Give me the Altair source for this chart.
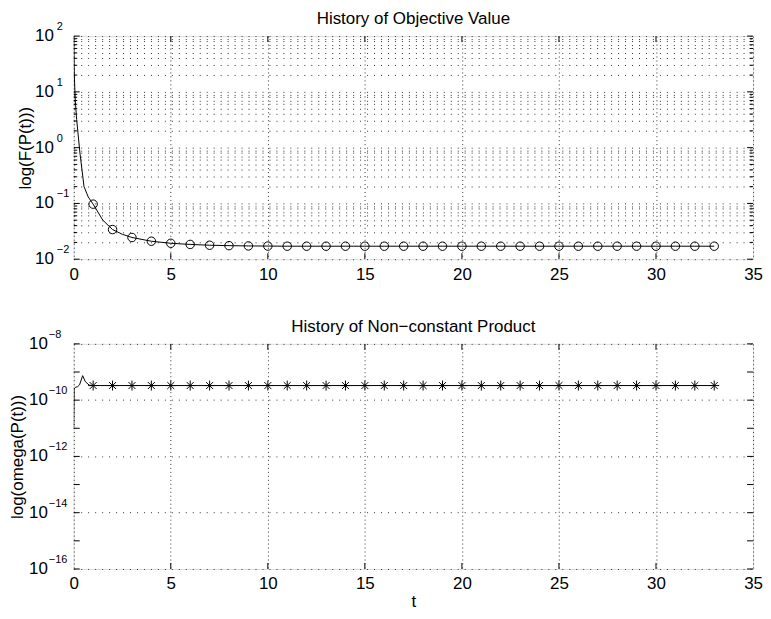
import altair as alt
import pandas as pd

FONT = "Liberation Sans"
FS = 17

# ---------------- data: top panel (objective value) ----------------
top_line_t = [0, 0.03, 0.08, 0.15, 0.32, 0.53, 0.75, 1.5, 2.5]
top_line_v = [100, 20, 7, 3.2, 0.8, 0.2, 0.13, 0.05, 0.028]
top_marker_t = list(range(1, 34))
top_marker_v = [0.097, 0.034, 0.0245, 0.021, 0.0193, 0.0184, 0.0178, 0.0175,
                0.0173, 0.0172, 0.0171, 0.0171, 0.0171, 0.0171, 0.0171, 0.0171,
                0.0171, 0.0171, 0.0171, 0.0171, 0.0171, 0.0171, 0.0171, 0.0171,
                0.0171, 0.0171, 0.0171, 0.0171, 0.0171, 0.0171, 0.0171, 0.0171,
                0.0171]

# ---------------- data: bottom panel (non-constant product) ----------------
bot_line_t = [0, 0.02, 0.1, 0.2, 0.3, 0.46, 0.6, 0.8]
bot_line_v = [1e-11, 2.5e-10, 2.9e-10, 3.0e-10, 3.5e-10, 7.4e-10, 4.5e-10, 3.4e-10]
bot_marker_t = list(range(1, 34))
bot_marker_v = [3.3e-10] * 33

# ---------------- axes / ticks ----------------
x_ticks = [0, 5, 10, 15, 20, 25, 30, 35]
top_exps = [-2, -1, 0, 1, 2]
top_minor = [m * 10.0 ** k for k in range(-2, 2) for m in range(2, 10)]
bot_exps = [-16, -14, -12, -10, -8]
bot_all_exps = [-16, -15, -14, -13, -12, -11, -10, -9, -8]

W, H_TOP, H_BOT = 682, 224, 226


def exp_text(e):
    return str(e).replace("-", "\u2212")


def panel(line_t, line_v, mark_t, mark_v, ydom, grid_vals, major_vals, minor_vals,
          label_exps, point_mark, title, ytitle, ytitle_pad, xtitle, H,
          lab_x_base, lab_x_exp):
    xs = alt.Scale(domain=[0, 35], nice=False, zero=False)
    ys = alt.Scale(type="log", domain=ydom, nice=False)
    xkw = dict(values=x_ticks, grid=True, gridDash=[1, 3], gridColor="#333",
               gridWidth=1, ticks=False, domain=False, labelFontSize=FS,
               labelFont=FONT, labelColor="black", labelPadding=7,
               labelFlush=False)
    if xtitle:
        xaxis = alt.Axis(title=xtitle, titleFontSize=FS, titleFont=FONT,
                         titleFontWeight="normal", titleColor="black",
                         titlePadding=2, **xkw)
    else:
        xaxis = alt.Axis(title=None, **xkw)
    yaxis = alt.Axis(values=grid_vals, grid=True, gridDash=[1, 6],
                     gridColor="#333", gridWidth=1, ticks=False, domain=False,
                     labels=False, title=ytitle, titleFontSize=FS,
                     titleFont=FONT, titleFontWeight="normal",
                     titleColor="black", titlePadding=ytitle_pad,
                     titleBaseline="alphabetic")

    line_df = pd.DataFrame({"t": line_t + mark_t, "v": line_v + mark_v}).sort_values("t")
    mark_df = pd.DataFrame({"t": mark_t, "v": mark_v})

    X = lambda: alt.X("t:Q", scale=xs, axis=xaxis)
    Y = lambda: alt.Y("v:Q", scale=ys, axis=yaxis)

    line = alt.Chart(line_df).mark_line(color="black", strokeWidth=1, clip=True).encode(
        x=X(), y=Y(), order="t:Q")
    pts = alt.Chart(mark_df).mark_point(**point_mark).encode(x=X(), y=Y())

    major_df = pd.DataFrame({"v": major_vals})
    minor_df = pd.DataFrame({"v": minor_vals})
    xt_df = pd.DataFrame({"t": x_ticks[1:-1]})

    def yrule(df, x0, x1):
        return alt.Chart(df).mark_rule(color="black", strokeWidth=1).encode(
            y=Y(), x=alt.value(x0), x2=alt.value(x1))

    def xrule(y0, y1):
        return alt.Chart(xt_df).mark_rule(color="black", strokeWidth=1).encode(
            x=X(), y=alt.value(y0), y2=alt.value(y1))

    ticks = [yrule(major_df, 0, 6), yrule(major_df, W, W - 6),
             xrule(H, H - 6), xrule(0, 6)]
    if minor_vals:
        ticks += [yrule(minor_df, 0, 3.5), yrule(minor_df, W, W - 3.5)]

    lab_df = pd.DataFrame({"v": [10.0 ** e for e in label_exps],
                           "exp": [exp_text(e) for e in label_exps]})
    base = alt.Chart(lab_df).mark_text(align="right", baseline="middle",
                                       fontSize=FS, font=FONT, color="black").encode(
        y=Y(), x=alt.value(lab_x_base), text=alt.value("10"))
    expo = alt.Chart(lab_df).mark_text(align="left", baseline="middle", dy=-9,
                                       fontSize=11, font=FONT, color="black").encode(
        y=Y(), x=alt.value(lab_x_exp), text="exp:N")

    return alt.layer(line, pts, *ticks, base, expo).properties(
        width=W, height=H,
        title=alt.Title(title, fontSize=FS, font=FONT, fontWeight="normal",
                        color="black", offset=-7, frame="group", anchor="middle"))


top_grid = sorted(set([10.0 ** e for e in top_exps] + top_minor))
top = panel(top_line_t, top_line_v, top_marker_t, top_marker_v,
            [1e-2, 1e2], top_grid, [10.0 ** e for e in top_exps], top_minor,
            top_exps,
            dict(shape="circle", filled=False, size=72, color="black", strokeWidth=1, opacity=1),
            "History of Objective Value", "log(F(P(t)))", 43, None, H_TOP, -20, -17)

asterisk = "M-1,0L1,0M0,-1L0,1M-0.7,-0.7L0.7,0.7M-0.7,0.7L0.7,-0.7"
bot = panel(bot_line_t, bot_line_v, bot_marker_t, bot_marker_v,
            [1e-16, 1e-8], [10.0 ** e for e in bot_exps],
            [10.0 ** e for e in bot_all_exps], [],
            bot_exps,
            dict(shape=asterisk, filled=False, size=100, color="black", strokeWidth=1, opacity=1),
            "History of Non\u2212constant Product", "log(omega(P(t)))", 51, "t", H_BOT, -26, -25)

chart = alt.vconcat(top, bot, spacing=34).properties(
    padding={"left": 0, "top": 0, "right": 0, "bottom": 0}
).configure_view(stroke="black", strokeWidth=1).configure(font=FONT)

chart.save("out.html", embed_options={"renderer": "svg", "actions": False})
